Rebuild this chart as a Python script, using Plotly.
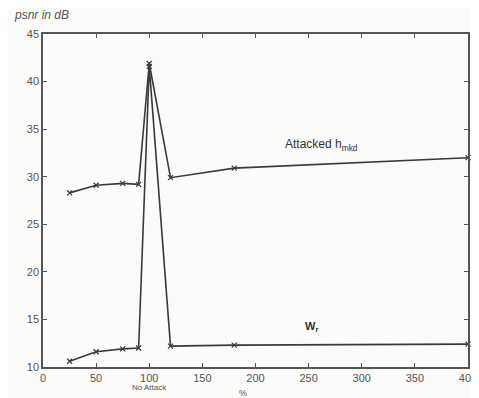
import plotly.graph_objects as go

x_vals = [25, 50, 75, 90, 100, 120, 180, 400]
attacked_hmkd = [28.3, 29.1, 29.3, 29.2, 41.9, 29.9, 30.9, 32.0]
w_r = [10.6, 11.6, 11.9, 12.0, 41.6, 12.2, 12.3, 12.4]
x_ticks = [0, 50, 100, 150, 200, 250, 300, 350, 400]
y_ticks = [10, 15, 20, 25, 30, 35, 40, 45]

line_col = "#3a3a3a"
txt_col = "#555555"

fig = go.Figure()
for ys in (attacked_hmkd, w_r):
    fig.add_trace(go.Scatter(
        x=x_vals, y=ys, mode="lines+markers",
        line=dict(color=line_col, width=1.6),
        marker=dict(symbol="x-thin", size=5, color=line_col, line=dict(width=1.2, color=line_col)),
        showlegend=False, hoverinfo="skip", cliponaxis=False))

axis_common = dict(showline=True, linecolor="#555555", linewidth=1.5, mirror="ticks",
                   ticks="inside", ticklen=4, tickcolor="#555555", showgrid=False, zeroline=False,
                   automargin=False, ticklabeloverflow="allow",
                   tickfont=dict(family="Liberation Sans, Arial, sans-serif", size=11, color=txt_col))
fig.update_xaxes(range=[0, 400], tickvals=x_ticks, **axis_common)
fig.update_yaxes(range=[10, 45], tickvals=y_ticks, **axis_common)

font = dict(family="Liberation Sans, Arial, sans-serif", color=txt_col)
fig.add_annotation(text="<i>psnr in dB</i>", xref="paper", yref="paper", x=-0.074, y=1.056,
                   xanchor="left", yanchor="middle", showarrow=False, font=dict(size=12, **font))
fig.add_annotation(text="Attacked h<sub>mkd</sub>", x=226, y=33.3, xanchor="left", yanchor="middle",
                   showarrow=False, font=dict(size=12, color="#333333", family=font["family"]))
fig.add_annotation(text="<b>W<sub>r</sub></b>", x=245, y=14.2, xanchor="left", yanchor="middle",
                   showarrow=False, font=dict(size=11, color="#333333", family=font["family"]))
fig.add_annotation(text="No Attack", x=100, xref="x", y=-0.063, yref="paper", xanchor="center",
                   yanchor="middle", showarrow=False, font=dict(size=8, **font))
fig.add_annotation(text="%", x=188, xref="x", y=-0.078, yref="paper", xanchor="center",
                   yanchor="middle", showarrow=False, font=dict(size=9, **font))

# the page body adds an 8px offset; size/margins compensate so the plot area matches the reference
fig.update_layout(width=471, height=390, margin=dict(l=35, r=11, t=26, b=31),
                  paper_bgcolor="#fbfbfa", plot_bgcolor="#fbfbfa")
fig.write_html("out.html")
